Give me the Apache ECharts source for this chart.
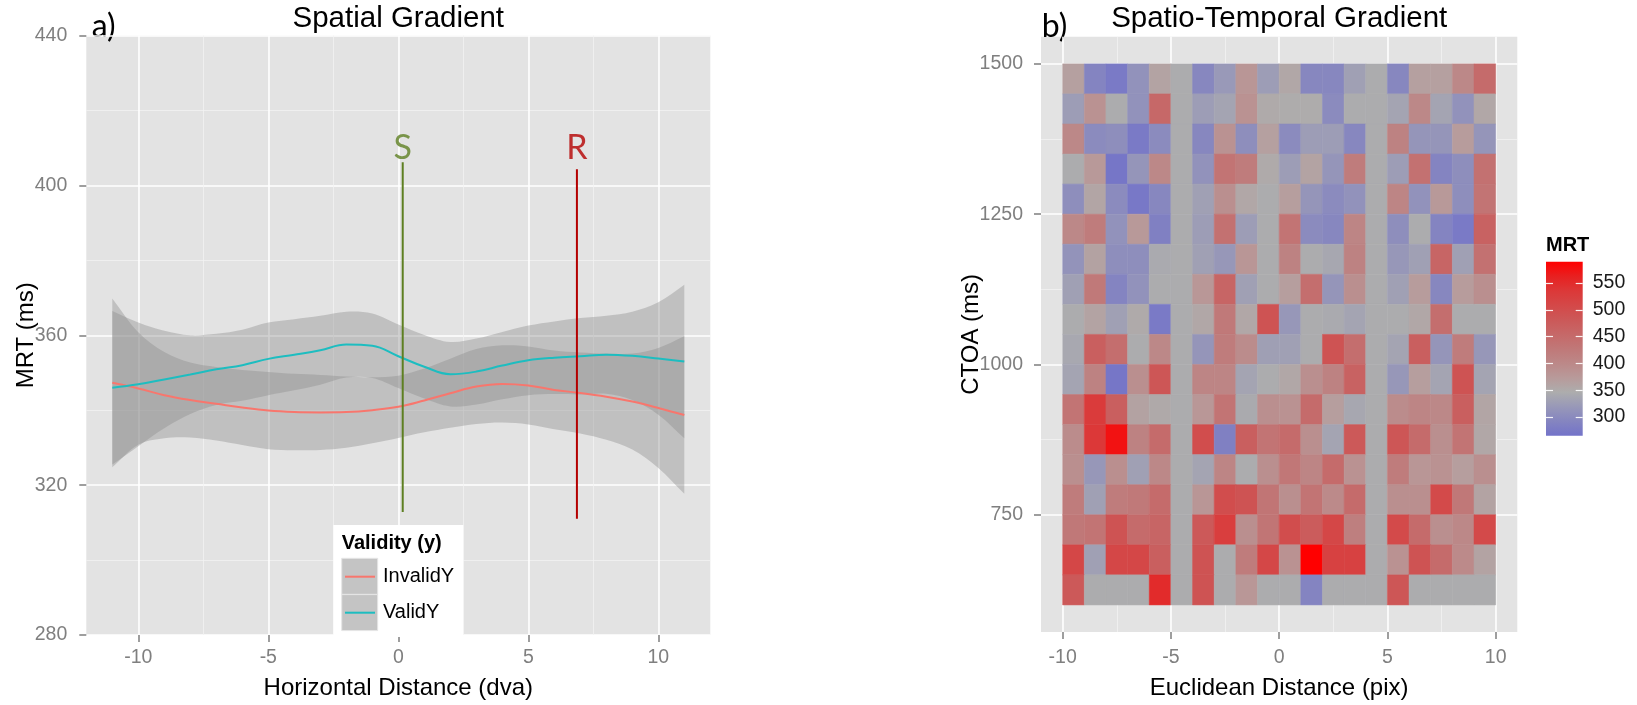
<!DOCTYPE html>
<html>
<head>
<meta charset="utf-8">
<title>Spatial / Spatio-Temporal Gradient</title>
<script src="https://cdn.jsdelivr.net/npm/echarts@6/dist/echarts.min.js"></script>
<style>
  html, body { margin: 0; padding: 0; background: #fff; }
  #chart { width: 1637px; height: 705px; }
</style>
</head>
<body>
<div id="chart"></div>
<script>
// ---------- panel a) loess fits, MRT vs horizontal distance ----------
const distX = [-11, -10, -9, -8, -7, -6, -5, -4, -3, -2, -1, 0, 1, 2, 3, 4, 5, 6, 7, 8, 9, 10, 11];
const invalidFit = [347.3, 345.8, 344.0, 342.7, 341.7, 340.7, 339.9, 339.5, 339.4, 339.5, 340.0, 340.9,
                    342.6, 344.5, 346.3, 347.0, 346.6, 345.4, 344.6, 343.6, 342.3, 340.6, 338.7];
const invalidCI = [22.5, 15, 11.5, 10, 9.8, 10, 10.3, 10.2, 10, 9.5, 8.8, 8.3,
                   8.5, 9.2, 10, 10.3, 10.4, 10.5, 10.8, 11.5, 12.8, 16, 21];
const validFit = [346.0, 346.9, 348.2, 349.5, 350.9, 352.0, 353.7, 354.8, 356.0, 357.5, 357.2, 354.4,
                  351.6, 349.6, 350.3, 351.9, 353.3, 354.0, 354.4, 354.8, 354.5, 353.8, 353.0];
const validCI = [20.5, 16.5, 13, 10.5, 9.5, 9.5, 9.7, 9.5, 9.2, 8.8, 8.6, 8.5,
                 8.5, 8.6, 8.8, 9.0, 9.3, 9.7, 10.2, 10.4, 11.8, 15, 20.5];

// S / R cue markers
const markerNames = ['S', 'R'];
const markerX = [0.17, 6.87];
const markerLow = [312.8, 311.0];
const markerHigh = [406.2, 404.3];
const markerLabelY = [410, 410];

const spatialTicks = [-10, -5, 0, 5, 10];
const mrtTicks = [280, 320, 360, 400, 440];

// ---------- panel b) MRT by euclidean distance x CTOA ----------
const eucBins = [-10, -9, -8, -7, -6, -5, -4, -3, -2, -1, 0, 1, 2, 3, 4, 5, 6, 7, 8, 9];   // left edges
const ctoaBins = [1450, 1400, 1350, 1300, 1250, 1200, 1150, 1100, 1050, 1000,
                  950, 900, 850, 800, 750, 700, 650, 600];                              // bottom edges, top row first
const mrtGrid = [
  [365, 290, 275, 310, 360, 345, 295, 320, 380, 325, 355, 295, 295, 330, 345, 295, 365, 365, 400, 450],
  [325, 385, 345, 310, 455, 345, 325, 335, 385, 350, 348, 348, 300, 345, 345, 335, 400, 335, 310, 355],
  [400, 300, 305, 275, 300, 345, 295, 385, 305, 365, 300, 325, 325, 295, 345, 410, 315, 315, 370, 315],
  [345, 375, 270, 315, 400, 345, 310, 435, 420, 350, 325, 360, 315, 420, 345, 325, 440, 290, 305, 440],
  [305, 358, 300, 272, 295, 345, 330, 390, 355, 345, 368, 315, 300, 310, 345, 405, 310, 375, 305, 435],
  [400, 420, 310, 375, 285, 345, 325, 440, 325, 345, 435, 300, 295, 405, 345, 305, 345, 290, 275, 465],
  [312, 362, 305, 305, 342, 345, 330, 318, 380, 345, 410, 345, 338, 410, 345, 318, 330, 460, 330, 440],
  [330, 425, 290, 310, 345, 345, 378, 460, 330, 345, 368, 445, 315, 390, 345, 330, 370, 295, 370, 390],
  [345, 360, 330, 350, 275, 345, 355, 425, 355, 490, 318, 345, 342, 335, 345, 345, 355, 445, 345, 345],
  [340, 470, 445, 345, 400, 345, 315, 420, 395, 328, 330, 345, 490, 445, 345, 335, 470, 315, 420, 318],
  [335, 410, 270, 390, 485, 345, 405, 405, 335, 345, 355, 390, 410, 465, 345, 318, 368, 335, 490, 335],
  [435, 530, 470, 362, 352, 345, 378, 435, 343, 390, 385, 450, 368, 338, 345, 395, 405, 400, 470, 358],
  [395, 535, 575, 410, 450, 345, 500, 285, 470, 435, 450, 390, 335, 480, 345, 485, 450, 390, 435, 355],
  [390, 318, 390, 330, 400, 345, 335, 405, 345, 390, 430, 405, 450, 385, 345, 420, 380, 385, 368, 390],
  [420, 330, 420, 425, 450, 345, 380, 500, 490, 432, 390, 435, 398, 450, 345, 390, 390, 505, 428, 360],
  [428, 435, 490, 450, 460, 345, 480, 525, 390, 432, 500, 475, 510, 415, 345, 505, 450, 390, 400, 505],
  [510, 330, 510, 510, 470, 345, 490, 345, 420, 510, 385, 590, 520, 520, 345, 385, 490, 450, 398, 360],
  [480, 345, 345, 345, 550, 345, 490, 345, 378, 345, 345, 290, 345, 345, 345, 485, 345, 345, 345, 345]
];
const eucTicks = [-10, -5, 0, 5, 10];
const ctoaTicks = [750, 1000, 1250, 1500];
const mrtLegendTicks = [300, 350, 400, 450, 500, 550];

// ---------------------------------------------------------------
const chart = echarts.init(document.getElementById('chart'));
const FONT = '"Liberation Sans", Arial, sans-serif';
const HAND = 'Lato, "Open Sans", sans-serif';
const TICK_GREY = '#7F7F7F';
const MRT_MIN = 265, MRT_MAX = 590;
const heatColors = ['#7373C9', '#8585C0', '#9898B8', '#ADADAD', '#B89A9A', '#BC8888', '#C07878',
                    '#C66868', '#CC5858', '#D44848', '#DC3838', '#E82020', '#FF0000'];

const eucStep = eucBins[1] - eucBins[0];
const ctoaStep = ctoaBins[0] - ctoaBins[1];
const mids = t => t.slice(1).map((v, i) => (v + t[i]) / 2);

function pairs(xs, ys) { return xs.map((x, i) => [x, ys[i]]); }

// white major / minor grid lines drawn as mark lines under the data
function gridLineItems(axis, major, minor) {
  return major.map(v => ({ [axis]: v, lineStyle: { color: '#fff', width: 1.6, type: 'solid' } }))
    .concat(minor.map(v => ({ [axis]: v, lineStyle: { color: '#F2F2F2', width: 0.8, type: 'solid' } })));
}
function gridLineSeries(xi, items) {
  return {
    type: 'line', data: [], xAxisIndex: xi, yAxisIndex: xi, z: 1,
    markLine: { silent: true, symbol: 'none', animation: false, z: 1, label: { show: false },
                lineStyle: { type: 'solid' }, data: items }
  };
}

function axisCommon(ticks, margin) {
  return {
    nameMoveOverlap: false,
    axisLine: { show: false, onZero: false },
    axisTick: { show: true, length: 7, customValues: ticks, lineStyle: { color: TICK_GREY, width: 1.5 } },
    axisLabel: { customValues: ticks, color: TICK_GREY, fontSize: 19.5, fontFamily: FONT, margin: margin,
                 formatter: v => String(v) },
    splitLine: { show: false }
  };
}

const heatData = [];
mrtGrid.forEach((row, r) => row.forEach((v, c) => heatData.push([eucBins[c], ctoaBins[r], v])));

// confidence band as one polygon: upper edge left->right, lower edge right->left
const bandFill = 'rgba(140,140,140,0.4)';
function band(fit, ci) {
  return {
    type: 'custom', xAxisIndex: 0, yAxisIndex: 0, z: 2, silent: true,
    data: [[distX[0], fit[0]]],
    encode: { x: 0, y: 1 },
    renderItem: function (params, api) {
      const up = distX.map((x, i) => api.coord([x, fit[i] + ci[i]]));
      const lo = distX.map((x, i) => api.coord([x, fit[i] - ci[i]])).reverse();
      // repeat the corner points so the vertical ends stay straight
      const pts = [up[0]].concat(up, [up[up.length - 1]], [lo[0]], lo, [lo[lo.length - 1]]);
      return { type: 'polygon', shape: { points: pts, smooth: 0.35 }, style: { fill: bandFill } };
    }
  };
}

const markerColors = ['#5E7F22', '#B40000'];

const series = [
  gridLineSeries(0, gridLineItems('xAxis', spatialTicks, mids(spatialTicks))),
  band(invalidFit, invalidCI),
  band(validFit, validCI),
  { name: 'InvalidY', type: 'line', smooth: 0.4, showSymbol: false, xAxisIndex: 0, yAxisIndex: 0, z: 3,
    data: pairs(distX, invalidFit), color: '#F8766D', lineStyle: { width: 2, color: '#F8766D' } },
  { name: 'ValidY', type: 'line', smooth: 0.4, showSymbol: false, xAxisIndex: 0, yAxisIndex: 0, z: 3,
    data: pairs(distX, validFit), color: '#1DBDC0', lineStyle: { width: 2, color: '#1DBDC0' } }
];

markerNames.forEach((m, i) => {
  series.push({
    name: 'marker-' + m, type: 'line', showSymbol: false, xAxisIndex: 0, yAxisIndex: 0, z: 4,
    data: [[markerX[i], markerLow[i]], [markerX[i], markerHigh[i]]],
    lineStyle: { width: 2, color: markerColors[i] }
  });
});
series.push({
  type: 'scatter', xAxisIndex: 0, yAxisIndex: 0, symbolSize: 0, z: 4, silent: true,
  data: markerNames.map((m, i) => ({
    value: [markerX[i], markerLabelY[i]], name: m,
    label: { show: true, position: 'inside', formatter: m, color: markerColors[i],
             fontSize: 34, fontFamily: HAND }
  }))
});

// panel b
series.push(gridLineSeries(1, gridLineItems('xAxis', eucTicks, mids(eucTicks))
  .concat(gridLineItems('yAxis', ctoaTicks, mids(ctoaTicks)))));
const HEAT_INDEX = series.length;
series.push({
  type: 'custom', xAxisIndex: 1, yAxisIndex: 1, z: 3, silent: true,
  data: heatData,
  encode: { x: 0, y: 1 },
  renderItem: function (params, api) {
    const x = api.value(0), y = api.value(1);
    const a = api.coord([x, y + ctoaStep]);
    const b = api.coord([x + eucStep, y]);
    const col = api.visual('color');
    return {
      type: 'rect',
      shape: { x: a[0], y: a[1], width: b[0] - a[0], height: b[1] - a[1] },
      style: { fill: col, stroke: col, lineWidth: 0.5 }
    };
  }
});

// colour bar geometry (shared by the legend gradient and its tick axis)
const bar = { left: 1546, top: 261.7, width: 36.7, height: 174 };
const barTick = {
  show: true, inside: true, length: 7, customValues: mrtLegendTicks,
  lineStyle: { color: 'rgba(255,255,255,0.9)', width: 1.2 }
};

const option = {
  animation: false,
  backgroundColor: '#fff',
  textStyle: { fontFamily: FONT },
  grid: [
    { left: 86.3, top: 35.5, width: 624, height: 608.5, show: true, backgroundColor: '#E3E3E3', borderWidth: 0 },
    { left: 1041, top: 36.8, width: 476.3, height: 604.5, show: true, backgroundColor: '#E3E3E3', borderWidth: 0 },
    { left: bar.left, top: bar.top, width: bar.width, height: bar.height, show: false }
  ],
  xAxis: [
    Object.assign({ type: 'value', gridIndex: 0, min: -12, max: 12,
      name: 'Horizontal Distance (dva)', nameLocation: 'middle', nameGap: 41,
      nameTextStyle: { fontSize: 24, color: '#000', fontFamily: FONT } },
      axisCommon(spatialTicks, 13)),
    Object.assign({ type: 'value', gridIndex: 1, min: -11, max: 11,
      name: 'Euclidean Distance (pix)', nameLocation: 'middle', nameGap: 44,
      nameTextStyle: { fontSize: 24, color: '#000', fontFamily: FONT } },
      axisCommon(eucTicks, 16)),
    { type: 'value', gridIndex: 2, min: 0, max: 1, show: false }
  ],
  yAxis: [
    Object.assign({ type: 'value', gridIndex: 0, min: 280, max: 440, interval: 40,
      name: 'MRT (ms)', nameLocation: 'middle', nameGap: 48,
      nameTextStyle: { fontSize: 24, color: '#000', fontFamily: FONT } },
      axisCommon(mrtTicks, 19),
      { splitLine: { show: true, lineStyle: { color: '#fff', width: 1.6 } },
        minorTick: { show: false, splitNumber: 2 },
        minorSplitLine: { show: true, lineStyle: { color: '#F2F2F2', width: 0.8 } } }),
    Object.assign({ type: 'value', gridIndex: 1, min: 555, max: 1545,
      name: 'CTOA (ms)', nameLocation: 'middle', nameGap: 58,
      nameTextStyle: { fontSize: 24, color: '#000', fontFamily: FONT } },
      axisCommon(ctoaTicks, 18)),
    { type: 'value', gridIndex: 2, min: MRT_MIN, max: MRT_MAX, position: 'right', z: 10,
      axisLine: { show: false, onZero: false }, splitLine: { show: false }, axisTick: barTick,
      axisLabel: { customValues: mrtLegendTicks, color: '#1a1a1a', fontSize: 19.5, fontFamily: FONT, margin: 10 } },
    { type: 'value', gridIndex: 2, min: MRT_MIN, max: MRT_MAX, position: 'left', z: 10,
      axisLine: { show: false, onZero: false }, splitLine: { show: false }, axisLabel: { show: false },
      axisTick: barTick }
  ],
  visualMap: {
    type: 'continuous', show: false, min: MRT_MIN, max: MRT_MAX, dimension: 2, seriesIndex: HEAT_INDEX,
    inRange: { color: heatColors }
  },
  legend: {
    data: ['InvalidY', 'ValidY'],
    orient: 'vertical', left: 345, top: 558.7, padding: 0, itemGap: 0,
    itemWidth: 30, itemHeight: 2, icon: 'rect', selectedMode: false,
    textStyle: { fontSize: 20, color: '#000', fontFamily: FONT, lineHeight: 36, padding: [0, 0, 0, 3] }
  },
  graphic: [
    { type: 'rect', z: 3, shape: { x: 333.3, y: 525, width: 130, height: 112 }, style: { fill: '#fff' } },
    { type: 'rect', z: 3, shape: { x: 341.7, y: 558.3, width: 36, height: 36 }, style: { fill: '#C4C4C4', stroke: '#E6E6E6', lineWidth: 1 } },
    { type: 'rect', z: 3, shape: { x: 341.7, y: 594.6, width: 36, height: 36 }, style: { fill: '#C4C4C4', stroke: '#E6E6E6', lineWidth: 1 } },
    { type: 'text', z: 3, x: 341.7, y: 543.3, style: { text: 'Validity (y)', fontSize: 20, fontWeight: 'bold', fontFamily: FONT, fill: '#000', align: 'left', verticalAlign: 'middle' } },
    { type: 'text', x: 398.3, y: 19, style: { text: 'Spatial Gradient', fontSize: 29.5, fontFamily: FONT, fill: '#000', align: 'center', verticalAlign: 'middle' } },
    { type: 'text', x: 1279.2, y: 19, style: { text: 'Spatio-Temporal Gradient', fontSize: 29.5, fontFamily: FONT, fill: '#000', align: 'center', verticalAlign: 'middle' } },
    { type: 'text', x: 91.7, y: 27, style: { text: 'a)', fontSize: 32, fontFamily: HAND, fill: '#000', align: 'left', verticalAlign: 'middle' } },
    { type: 'text', x: 1041.7, y: 27, style: { text: 'b)', fontSize: 32, fontFamily: HAND, fill: '#000', align: 'left', verticalAlign: 'middle' } },
    { type: 'text', x: 1546, y: 245, style: { text: 'MRT', fontSize: 20, fontWeight: 'bold', fontFamily: FONT, fill: '#000', align: 'left', verticalAlign: 'middle' } },
    { type: 'rect', z: 0, shape: { x: bar.left, y: bar.top, width: bar.width, height: bar.height },
      style: { fill: new echarts.graphic.LinearGradient(0, 1, 0, 0,
        heatColors.map((c, i) => ({ offset: i / (heatColors.length - 1), color: c }))) } }
  ],
  series: series
};

chart.setOption(option);
</script>
</body>
</html>
